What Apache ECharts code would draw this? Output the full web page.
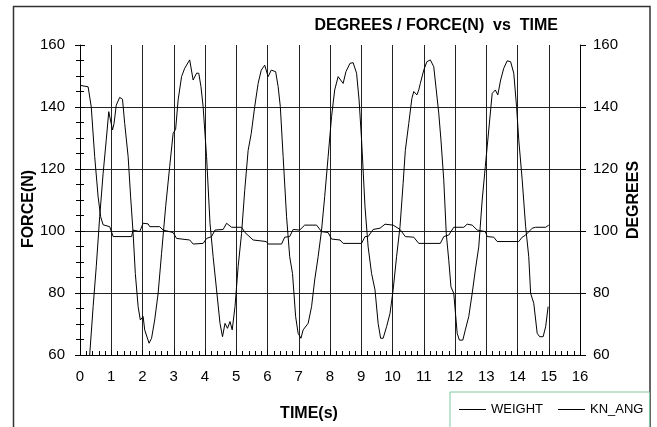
<!DOCTYPE html>
<html>
<head>
<meta charset="utf-8">
<script src="https://cdn.jsdelivr.net/npm/echarts@6/dist/echarts.min.js"></script>
<style>
  html, body { margin: 0; padding: 0; background: #fff; }
  #main { width: 657px; height: 427px; }
</style>
</head>
<body>
<div id="main"></div>
<script>
// WEIGHT - force, left axis (the flat one around 100)
var weightTime = [
  0, 0.26, 0.36, 0.47, 0.58, 0.66, 0.74, 0.95, 1.06, 1.65,
  1.7, 1.91, 2.02, 2.18, 2.23, 2.55, 2.66, 2.98, 3.09, 3.51,
  3.62, 3.94, 4.05, 4.21, 4.32, 4.58, 4.69, 4.85, 5.17, 5.28,
  5.54, 5.96, 6.02, 6.45, 6.55, 6.71, 6.82, 7.03, 7.19, 7.57,
  7.73, 7.94, 8.05, 8.32, 8.42, 9.01, 9.12, 9.22, 9.38, 9.6,
  9.76, 10.02, 10.24, 10.41, 10.68, 10.84, 11.53, 11.64, 11.8, 11.96,
  12.28, 12.39, 12.55, 12.71, 12.97, 13.03, 13.24, 13.35, 14.04, 14.15,
  14.26, 14.47, 14.58, 14.9, 15.0
];
var weightVals = [
  147, 146.5, 140, 124, 111, 104.6, 102, 101.4, 98.2, 98.2,
  100.3, 99.8, 102.5, 102.3, 101.4, 101.4, 100.3, 99.5, 97.6, 97.1,
  95.8, 96, 97.6, 98.2, 100.3, 100.5, 102.5, 101.2, 101.2, 99.5,
  97.1, 96.6, 95.8, 95.8, 98, 98.2, 100.5, 100.3, 101.9, 101.9,
  99.8, 99.5, 97.4, 97.1, 96, 96, 98.2, 98.2, 100.5, 100.9,
  102.2, 101.9, 100.5, 98.2, 98, 96, 96, 98.2, 98.7, 101.2,
  101.2, 102.2, 101.9, 100.3, 99.8, 98.2, 98, 96.6, 96.6, 98,
  98.7, 100.9, 101.2, 101.2, 101.9
];

// KN_ANG - knee angle, right axis (big swings)
var angTime = [
  0, 0.28, 0.31, 0.42, 0.52, 0.63, 0.74, 0.84, 0.92, 0.97,
  1.04, 1.09, 1.16, 1.27, 1.36, 1.43, 1.54, 1.62, 1.7, 1.77,
  1.86, 1.93, 2.02, 2.07, 2.21, 2.29, 2.39, 2.5, 2.61, 2.74,
  2.87, 2.98, 3.06, 3.14, 3.25, 3.35, 3.51, 3.62, 3.73, 3.8,
  3.87, 3.94, 4.05, 4.16, 4.26, 4.37, 4.48, 4.56, 4.64, 4.72,
  4.8, 4.87, 4.96, 5.06, 5.17, 5.27, 5.38, 5.48, 5.59, 5.7,
  5.8, 5.91, 6.02, 6.12, 6.26, 6.34, 6.41, 6.5, 6.61, 6.71,
  6.8, 6.9, 6.98, 7.07, 7.14, 7.3, 7.41, 7.51, 7.62, 7.73,
  7.83, 7.94, 8.05, 8.15, 8.26, 8.32, 8.42, 8.51, 8.64, 8.74,
  8.85, 8.93, 9.01, 9.12, 9.22, 9.33, 9.44, 9.54, 9.62, 9.7,
  9.81, 9.92, 10.02, 10.13, 10.24, 10.34, 10.41, 10.52, 10.62, 10.68,
  10.78, 10.84, 10.89, 11.0, 11.1, 11.21, 11.32, 11.4, 11.48, 11.55,
  11.64, 11.72, 11.8, 11.87, 11.96, 12.07, 12.14, 12.25, 12.33, 12.44,
  12.55, 12.65, 12.76, 12.87, 12.97, 13.08, 13.19, 13.29, 13.37, 13.46,
  13.56, 13.67, 13.78, 13.88, 13.97, 14.04, 14.15, 14.26, 14.36, 14.42,
  14.52, 14.63, 14.71, 14.82, 14.9, 14.98
];
var angVals = [
  50, 55, 60, 75.6, 88.5, 104.6, 118.6, 129.4, 138.5, 139,
  132.6, 134.7, 140.6, 143.1, 142.5, 134.7, 124, 111, 99.2, 86.3,
  75.6, 71.3, 72.4, 68.1, 63.8, 65.4, 71.3, 79.9, 92.8, 107.8,
  120.8, 131.5, 132.8, 142.3, 149.8, 152.5, 155.2, 148.7, 150.9, 150.9,
  146.6, 140.1, 124, 102.5, 91.7, 81, 70.2, 65.9, 70.2, 68.6,
  70.8, 68.1, 75.6, 88.5, 99.2, 113, 126, 131.5, 140.1, 147.6,
  151.9, 153.5, 149.8, 151.9, 151.4, 146.6, 140.1, 124, 104.6, 91.7,
  86.3, 72.4, 67, 65.4, 68.1, 70.2, 75.6, 84.2, 91.7, 100.3,
  111.1, 124, 136.9, 145.5, 149.8, 150.3, 147.6, 151.4, 154.1, 154.3,
  150.9, 142.3, 129.4, 107.8, 94.9, 86.3, 81, 70.2, 65.4, 65.4,
  69.1, 73.4, 81, 91.7, 101.4, 115.4, 126, 134.7, 142.8, 145,
  143.9, 145.5, 147.6, 151.9, 154.6, 155.2, 153, 145.5, 138, 129.4,
  116.5, 99.2, 90.6, 82, 79.9, 67, 64.8, 64.8, 68.1, 72.4,
  79.9, 87.4, 94.9, 110, 120.8, 132.6, 144.4, 145.5, 143.9, 148.7,
  152.5, 154.9, 154.6, 150.9, 140.1, 129.4, 116.5, 101.4, 91.7, 79.9,
  76.7, 67, 65.9, 65.9, 69.1, 75.6
];

var seriesNames = ['WEIGHT', 'KN_ANG'];
var yTicks = [60, 80, 100, 120, 140, 160];

function pairs(ts, vs) {
  var out = [];
  var n = Math.min(ts.length, vs.length);
  for (var i = 0; i < n; i++) {
    out.push([ts[i], vs[i]]);
  }
  return out;
}

var font = 'Liberation Sans, Arial, sans-serif';
var myCharts = echarts.init(document.getElementById('main'));

// hide the split line at the top (160)
var hLineColors = [];
for (var i = 0; i < yTicks.length; i++) {
  hLineColors.push(i == yTicks.length - 1 ? 'rgba(0,0,0,0)' : '#222');
}

var option = {
  animation: false,
  backgroundColor: '#fff',
  title: {
    text: 'DEGREES / FORCE(N)  vs  TIME',
    right: 94,
    top: 13,
    textStyle: { fontFamily: font, fontSize: 16, fontWeight: 'bold', color: '#000' }
  },
  legend: {
    data: seriesNames,
    left: 450,
    top: 392,
    orient: 'horizontal',
    icon: 'rect',
    itemWidth: 27,
    itemHeight: 1,
    itemGap: 15,
    borderColor: '#7fc8a0',
    borderWidth: 1,
    padding: [11, 6, 30, 9],
    textStyle: { fontFamily: font, fontSize: 13, color: '#000' }
  },
  graphic: [
    {
      type: 'rect',
      z: -1,
      shape: { x: 13.5, y: 6.5, width: 636.5, height: 440 },
      style: { fill: 'none', stroke: '#333', lineWidth: 1.5 }
    }
  ],
  grid: {
    left: 80,
    right: 77,
    top: 45,
    bottom: 72
  },
  xAxis: {
    type: 'value',
    min: 0,
    max: 16,
    interval: 1,
    name: 'TIME(s)',
    nameLocation: 'middle',
    nameGap: 51,
    nameMoveOverlap: false,
    nameTextStyle: { fontFamily: font, fontSize: 16, fontWeight: 'bold', color: '#000', padding: [0, 42, 0, 0] },
    axisLine: { show: true, onZero: false, lineStyle: { color: '#000', width: 1 } },
    axisTick: { show: true, inside: true, length: 5, lineStyle: { color: '#000' } },
    minorTick: { show: true, splitNumber: 5, length: 4, lineStyle: { color: '#000' } },
    axisLabel: { fontFamily: font, fontSize: 15, color: '#000', margin: 14 },
    splitLine: { show: true, lineStyle: { color: '#222', width: 1 } }
  },
  yAxis: [
    {
      type: 'value',
      min: 60,
      max: 160,
      interval: 20,
      position: 'left',
      name: 'FORCE(N)',
      nameLocation: 'middle',
      nameGap: 43,
      nameRotate: 90,
      nameMoveOverlap: false,
      nameTextStyle: { fontFamily: font, fontSize: 16, fontWeight: 'bold', color: '#000', padding: [0, 18, 0, 0] },
      axisLine: { show: true, lineStyle: { color: '#000', width: 1 } },
      axisTick: { show: true, length: 5, lineStyle: { color: '#000' } },
      minorTick: { show: true, splitNumber: 4, length: 4, lineStyle: { color: '#000' } },
      axisLabel: { fontFamily: font, fontSize: 15, color: '#000', margin: 15 },
      splitLine: { show: true, lineStyle: { color: hLineColors, width: 1 } }
    },
    {
      type: 'value',
      min: 60,
      max: 160,
      interval: 20,
      position: 'right',
      name: 'DEGREES',
      nameLocation: 'middle',
      nameGap: 46,
      nameRotate: 90,
      nameMoveOverlap: false,
      nameTextStyle: { fontFamily: font, fontSize: 16, fontWeight: 'bold', color: '#000' },
      axisLine: { show: true, lineStyle: { color: '#000', width: 1 } },
      axisTick: { show: true, length: 6, lineStyle: { color: '#000' } },
      axisLabel: { fontFamily: font, fontSize: 15, color: '#000', margin: 13 },
      splitLine: { show: false }
    },
    {
      // inner half of the left ticks, so they cross the axis line
      type: 'value',
      min: 60,
      max: 160,
      interval: 20,
      position: 'left',
      axisLine: { show: false },
      axisTick: { show: true, inside: true, length: 5, lineStyle: { color: '#000' } },
      minorTick: { show: true, splitNumber: 4, length: 4, lineStyle: { color: '#000' } },
      axisLabel: { show: false },
      splitLine: { show: false }
    }
  ],
  series: [
    {
      name: 'WEIGHT',
      type: 'line',
      yAxisIndex: 0,
      symbol: 'none',
      clip: true,
      lineStyle: { color: '#000', width: 1 },
      itemStyle: { color: '#000' },
      data: pairs(weightTime, weightVals)
    },
    {
      name: 'KN_ANG',
      type: 'line',
      yAxisIndex: 1,
      symbol: 'none',
      clip: true,
      lineStyle: { color: '#000', width: 1 },
      itemStyle: { color: '#000' },
      data: pairs(angTime, angVals)
    }
  ]
};
myCharts.setOption(option);
</script>
</body>
</html>
